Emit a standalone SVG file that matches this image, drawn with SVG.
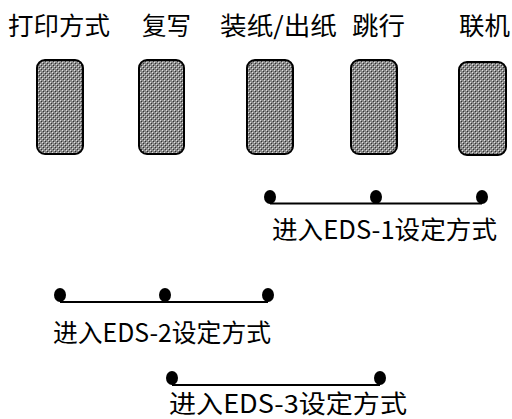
<svg xmlns="http://www.w3.org/2000/svg" width="512" height="419" viewBox="0 0 512 419">
<defs>
<pattern id="dither" width="4" height="4" patternUnits="userSpaceOnUse">
<rect width="4" height="4" fill="#8a8a8a"/>
<rect x="0" y="0" width="1" height="1" fill="#e0e0e0"/>
<rect x="2" y="2" width="1" height="1" fill="#e0e0e0"/>
<rect x="1" y="1" width="1" height="1" fill="#303030"/>
<rect x="3" y="3" width="1" height="1" fill="#303030"/>
</pattern>
</defs>
<style>
.btn{fill:url(#dither);stroke:#000;stroke-width:2}
.lbl{font-family:"Noto Sans CJK SC","Liberation Sans",sans-serif;font-size:25px;fill:#000}
.wire{stroke:#000;stroke-width:2;fill:none}
.dot{fill:#000}
</style>
<rect width="512" height="419" fill="#fff"/>
<g id="btn-print-mode">
<text class="lbl" x="8" y="35" textLength="102" lengthAdjust="spacingAndGlyphs">打印方式</text>
<rect class="btn" x="37" y="60" width="46" height="94" rx="8"/>
</g>
<g id="btn-copy">
<text class="lbl" x="142" y="35" textLength="49" lengthAdjust="spacingAndGlyphs">复写</text>
<rect class="btn" x="139" y="60" width="45" height="94" rx="8"/>
</g>
<g id="btn-load-eject">
<text class="lbl" x="220" y="35" textLength="117" lengthAdjust="spacingAndGlyphs">装纸/出纸</text>
<rect class="btn" x="247" y="60" width="46" height="94" rx="8"/>
</g>
<g id="btn-skip">
<text class="lbl" x="352" y="35" textLength="53" lengthAdjust="spacingAndGlyphs">跳行</text>
<rect class="btn" x="351" y="60" width="46" height="94" rx="8"/>
</g>
<g id="btn-online">
<text class="lbl" x="459" y="35" textLength="51" lengthAdjust="spacingAndGlyphs">联机</text>
<rect class="btn" x="459" y="62" width="47" height="93" rx="8"/>
</g>
<g id="connectors">
<g id="eds1">
<line class="wire" x1="270" y1="203.5" x2="482" y2="203.5"/>
<ellipse class="dot" cx="270" cy="197" rx="6" ry="7"/>
<ellipse class="dot" cx="376" cy="197" rx="6" ry="7"/>
<ellipse class="dot" cx="482" cy="197" rx="6" ry="7"/>
</g>
<g id="eds2">
<line class="wire" x1="60" y1="302" x2="268" y2="302"/>
<ellipse class="dot" cx="60" cy="295" rx="6" ry="7"/>
<ellipse class="dot" cx="165" cy="295" rx="6" ry="7"/>
<ellipse class="dot" cx="268" cy="295" rx="6" ry="7"/>
</g>
<g id="eds3">
<line class="wire" x1="172" y1="385" x2="380" y2="385"/>
<ellipse class="dot" cx="172" cy="378" rx="6" ry="7"/>
<ellipse class="dot" cx="380" cy="378" rx="6" ry="7"/>
</g>
</g>
<g id="label-eds1">
<text class="lbl" x="272" y="239" textLength="225" lengthAdjust="spacingAndGlyphs">进入EDS-1设定方式</text>
</g>
<g id="label-eds2">
<text class="lbl" x="53" y="342" textLength="218" lengthAdjust="spacingAndGlyphs">进入EDS-2设定方式</text>
</g>
<g id="label-eds3">
<text class="lbl" x="169" y="413" textLength="238" lengthAdjust="spacingAndGlyphs">进入EDS-3设定方式</text>
</g>
</svg>
